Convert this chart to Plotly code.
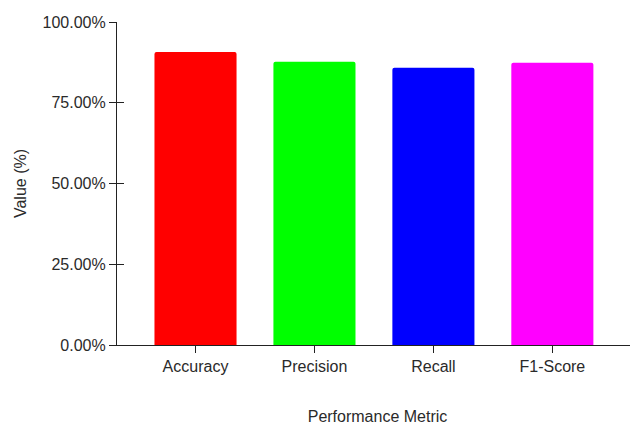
import plotly.graph_objects as go

metrics = ["Accuracy", "Precision", "Recall", "F1-Score"]
values = [0.907, 0.877, 0.858, 0.874]
colors = ["#ff0000", "#00ff00", "#0000ff", "#ff00ff"]
y_ticks = [0, 0.25, 0.5, 0.75, 1.0]

font = dict(family="Liberation Sans, Arial, sans-serif", size=16, color="#2a2a2a")

fig = go.Figure()
fig.add_trace(go.Bar(x=metrics, y=values, marker=dict(color=colors, line=dict(width=0)),
                     width=0.69, showlegend=False, hoverinfo="skip"))

# page body has an 8px default margin, so the figure is sized to fit the 638x425 window
fig.update_layout(
    width=630, height=417,
    margin=dict(l=109, r=0, t=14, b=80),
    paper_bgcolor="white", plot_bgcolor="white",
    font=font,
    barcornerradius=2,
    xaxis=dict(range=[-0.66, 3.72], showline=True, linecolor="#222222", linewidth=1.2,
               ticks="outside", ticklen=7, tickcolor="#222222", tickwidth=1.2,
               showgrid=False, zeroline=False, tickfont=font, automargin=False,
               title=dict(text="Performance Metric", font=font, standoff=40)),
    yaxis=dict(range=[0, 1], tickvals=y_ticks, tickformat=".2%", showline=True,
               linecolor="#222222", linewidth=1.2, ticks="outside", ticklen=7,
               tickcolor="#222222", tickwidth=1.2, showgrid=False, zeroline=False,
               tickfont=font, automargin=False,
               title=dict(text="Value (%)", font=font, standoff=11)),
    yaxis2=dict(range=[0, 1], tickvals=y_ticks, overlaying="y", side="left", anchor="x",
                ticks="inside", ticklen=7, tickcolor="#222222", tickwidth=1.2,
                showticklabels=False, showgrid=False, zeroline=False, showline=False),
)
fig.add_trace(go.Scatter(x=[metrics[0]], y=[None], yaxis="y2", showlegend=False, hoverinfo="skip"))

fig.write_html("out.html")
